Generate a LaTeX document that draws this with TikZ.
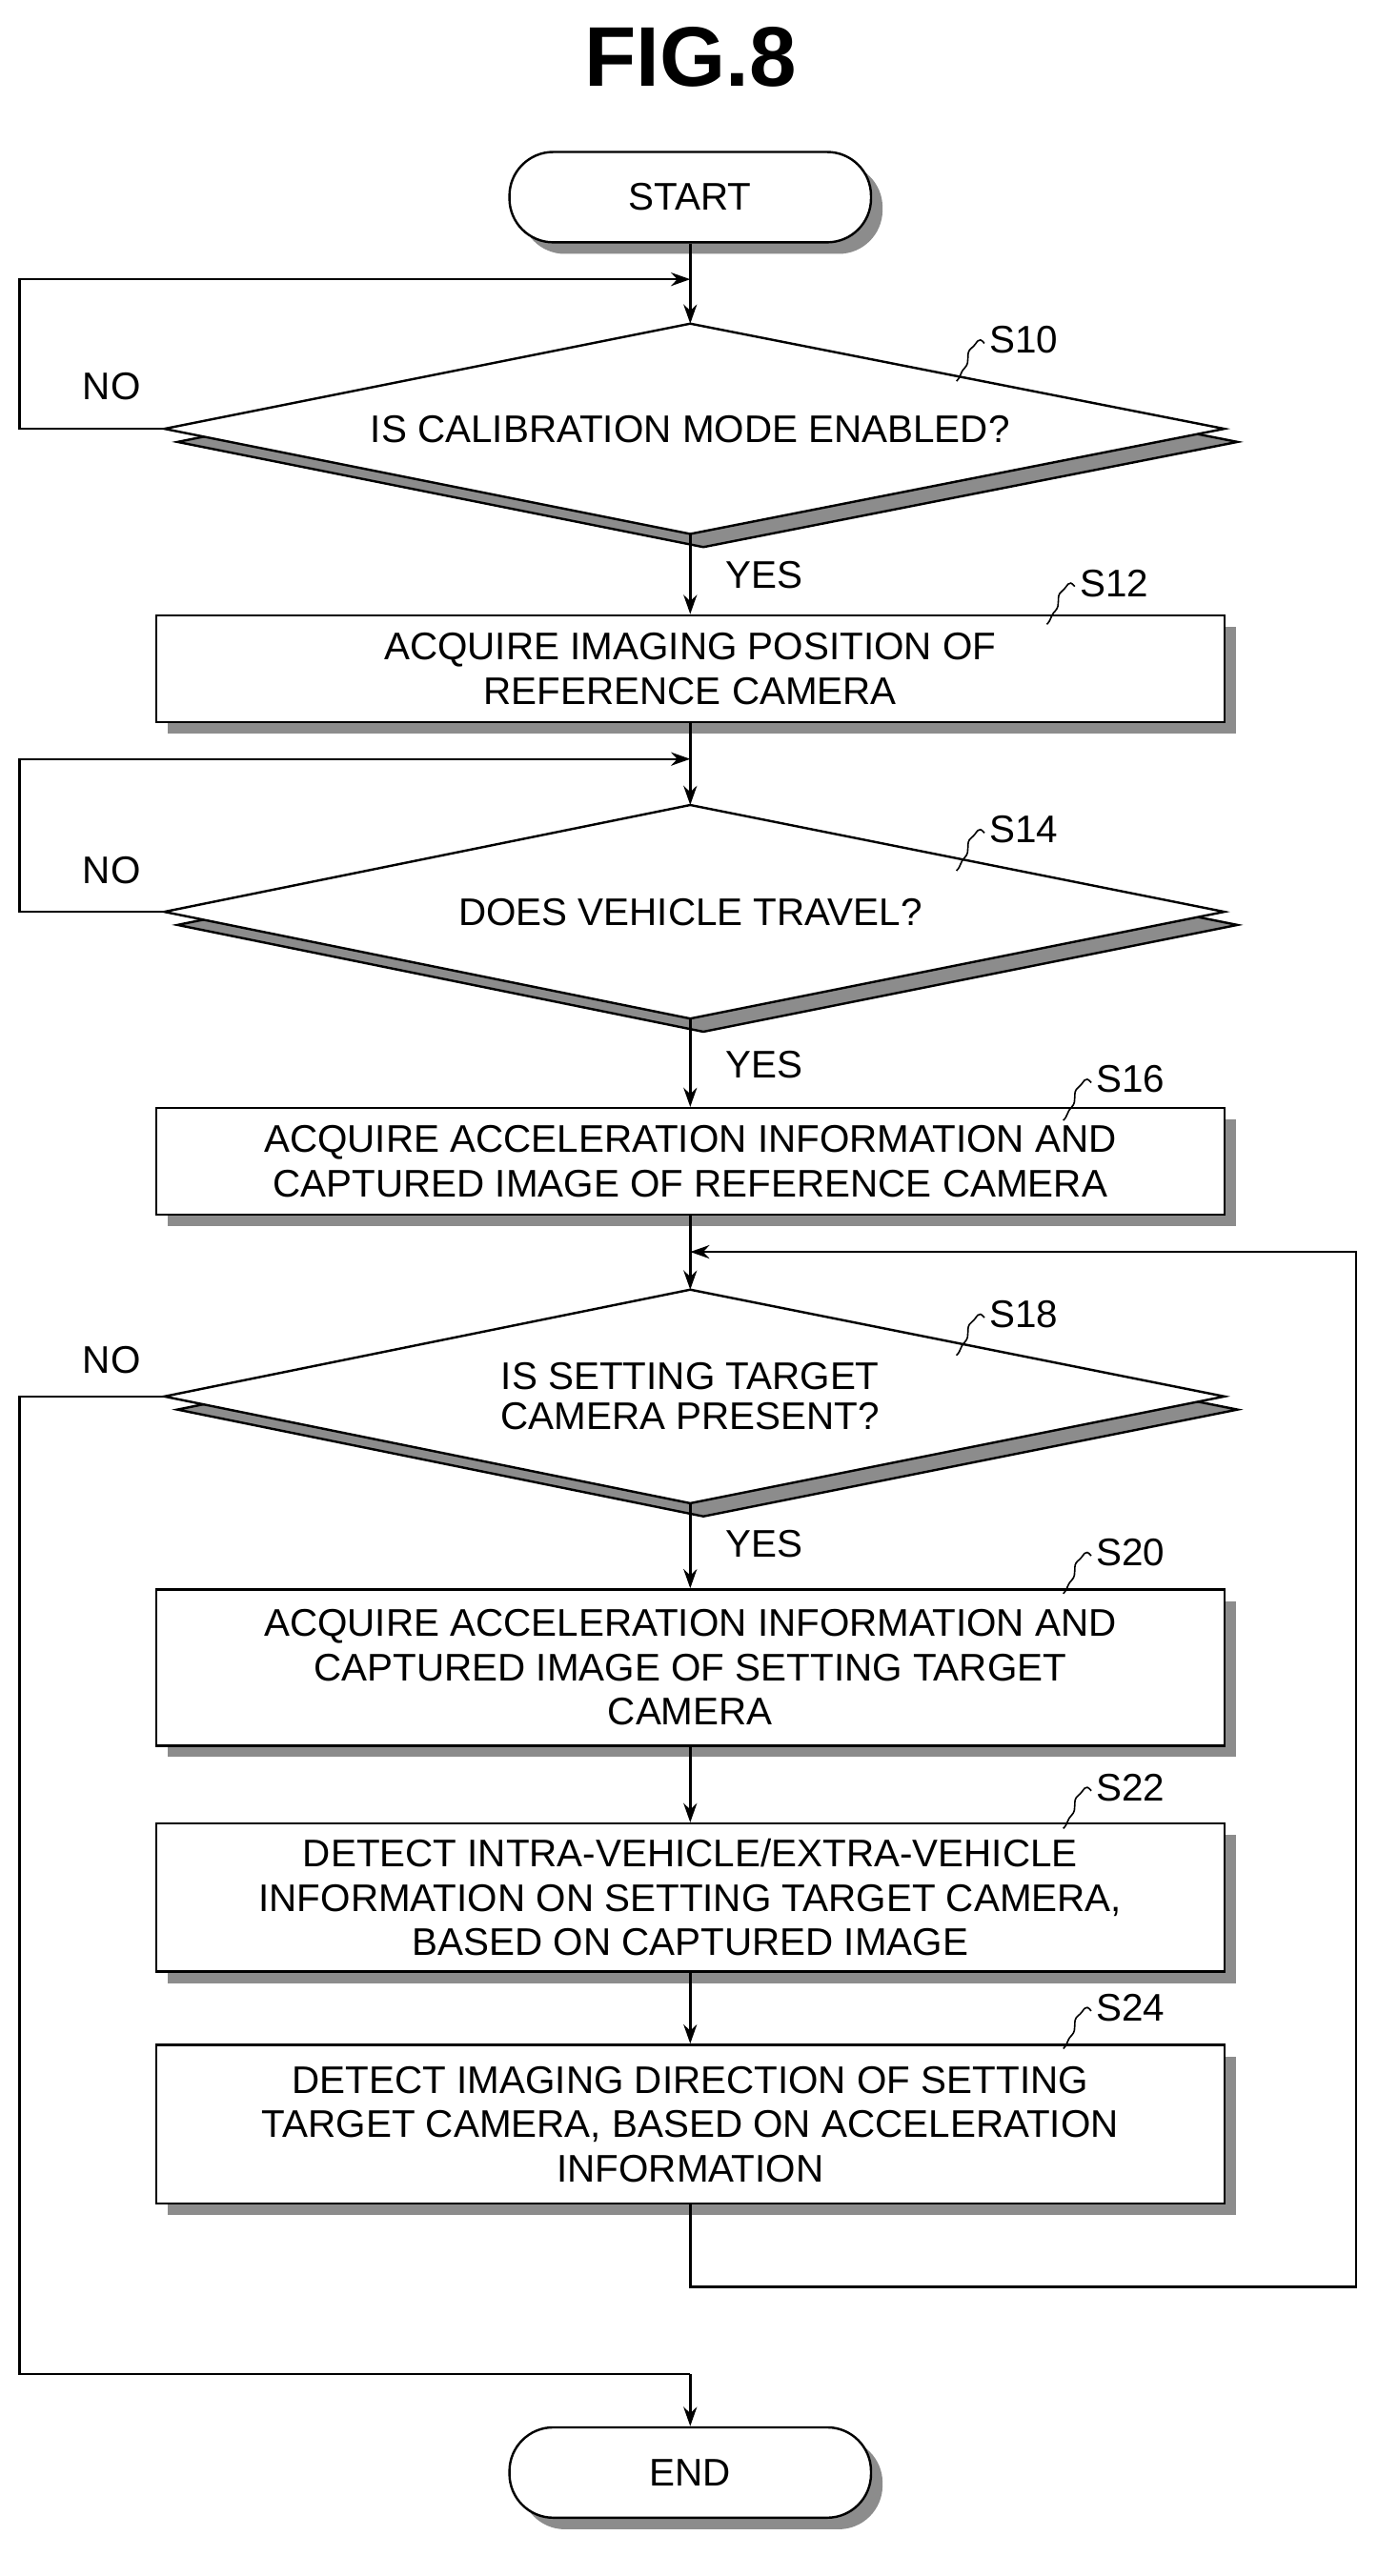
\documentclass[tikz,border=0pt]{standalone}
\usepackage{fontspec}
\setmainfont{Liberation Sans}
\usetikzlibrary{shadows,calc,arrows.meta}

\tikzset{
  flow/.style={draw, line width=1.2pt, fill=white, align=center,
    font=\fontsize{20}{23}\selectfont,
    drop shadow={fill=black!45, shadow xshift=6pt, shadow yshift=-6pt, opacity=1}},
  proc/.style={flow, rectangle, minimum width=19.5cm, inner sep=0pt},
  term/.style={flow, rectangle, rounded corners=0.8cm, minimum width=6.6cm, minimum height=1.65cm},
  line/.style={line width=1.2pt},
  arr/.style={line, -{Stealth[length=10pt,width=7pt]}},
  lbl/.style={font=\fontsize{20}{23}\selectfont},
}
\newcommand{\steplbl}[3]{% name, position, text
  \node[lbl, anchor=west] (#1) at #2 {#3};
  \draw[line width=0.8pt] ($(#1.west)+(1,2)$) .. controls +(-4,-5) and +(4,-3) .. ++(-8,3)
    .. controls +(-4,3) and +(4,-4) .. ++(-4,12)
    .. controls +(-3,3) and +(3,-3) .. ++(-5,8);
}

\begin{document}
\begin{tikzpicture}[x=0.03cm,y=-0.03cm]
\useasboundingbox (0,0) rectangle (838,1568);

\node[font=\bfseries\fontsize{44}{48}\selectfont] (title) at (420,35) {FIG.8};

% start
\node[term] (start) at (420,120) {START};

% S10
\coordinate (d1t) at (420,197); \coordinate (d1b) at (420,325);
\coordinate (d1l) at (100,261); \coordinate (d1r) at (745,261);
\draw[line, fill=black!45] ($(d1t)+(8,8)$) -- ($(d1r)+(8,8)$) -- ($(d1b)+(8,8)$) -- ($(d1l)+(8,8)$) -- cycle;
\draw[line, fill=white] (d1t) -- (d1r) -- (d1b) -- (d1l) -- cycle;
\node[lbl] (s10) at (420,261) {IS CALIBRATION MODE ENABLED?};
\steplbl{n10}{(598,207)}{S10}

% S12
\node[proc, minimum height=1.95cm] (s12) at (420,407) {ACQUIRE IMAGING POSITION OF\\REFERENCE CAMERA};
\steplbl{n12}{(653,355)}{S12}

% S14
\coordinate (d2t) at (420,490); \coordinate (d2b) at (420,620);
\coordinate (d2l) at (100,555); \coordinate (d2r) at (745,555);
\draw[line, fill=black!45] ($(d2t)+(8,8)$) -- ($(d2r)+(8,8)$) -- ($(d2b)+(8,8)$) -- ($(d2l)+(8,8)$) -- cycle;
\draw[line, fill=white] (d2t) -- (d2r) -- (d2b) -- (d2l) -- cycle;
\node[lbl] (s14) at (420,555) {DOES VEHICLE TRAVEL?};
\steplbl{n14}{(598,505)}{S14}

% S16
\node[proc, minimum height=1.95cm] (s16) at (420,707) {ACQUIRE ACCELERATION INFORMATION AND\\CAPTURED IMAGE OF REFERENCE CAMERA};
\steplbl{n16}{(663,657)}{S16}

% S18
\coordinate (d3t) at (420,785); \coordinate (d3b) at (420,915);
\coordinate (d3l) at (100,850); \coordinate (d3r) at (745,850);
\draw[line, fill=black!45] ($(d3t)+(8,8)$) -- ($(d3r)+(8,8)$) -- ($(d3b)+(8,8)$) -- ($(d3l)+(8,8)$) -- cycle;
\draw[line, fill=white] (d3t) -- (d3r) -- (d3b) -- (d3l) -- cycle;
\node[lbl, align=center] (s18) at (420,850) {IS SETTING TARGET\\[-2pt]CAMERA PRESENT?};
\steplbl{n18}{(598,800)}{S18}

% S20
\node[proc, minimum height=2.85cm] (s20) at (420,1015) {ACQUIRE ACCELERATION INFORMATION AND\\CAPTURED IMAGE OF SETTING TARGET\\CAMERA};
\steplbl{n20}{(663,945)}{S20}

% S22
\node[proc, minimum height=2.7cm] (s22) at (420,1155) {DETECT INTRA-VEHICLE/EXTRA-VEHICLE\\INFORMATION ON SETTING TARGET CAMERA,\\BASED ON CAPTURED IMAGE};
\steplbl{n22}{(663,1088)}{S22}

% S24
\node[proc, minimum height=2.9cm] (s24) at (420,1293) {DETECT IMAGING DIRECTION OF SETTING\\TARGET CAMERA, BASED ON ACCELERATION\\INFORMATION};
\steplbl{n24}{(663,1222)}{S24}

% end
\node[term] (end) at (420,1505) {END};

% connectors
\coordinate (m1) at (420,170);
\coordinate (m2) at (420,462);
\coordinate (m3) at (420,762);
\coordinate (m4) at (420,1445);
\draw[arr] (start) -- (d1t);
\draw[arr] (d1l) -- (12,261) -- (12,170) -- (m1);
\draw[arr] (d1b) -- (s12);
\draw[arr] (s12) -- (d2t);
\draw[arr] (d2l) -- (12,555) -- (12,462) -- (m2);
\draw[arr] (d2b) -- (s16);
\draw[arr] (s16) -- (d3t);
\draw[arr] (d3b) -- (s20);
\draw[arr] (s20) -- (s22);
\draw[arr] (s22) -- (s24);
\draw[arr] (s24.south) -- (420,1392) -- (825,1392) -- (825,762) -- (m3);
\draw[line] (d3l) -- (12,850) -- (12,1445) -- (m4);
\draw[arr] (m4) -- (end);

\node[lbl] at (68,235) {NO};
\node[lbl] at (68,530) {NO};
\node[lbl] at (68,828) {NO};
\node[lbl] at (465,350) {YES};
\node[lbl] at (465,648) {YES};
\node[lbl] at (465,940) {YES};
\end{tikzpicture}
\end{document}
